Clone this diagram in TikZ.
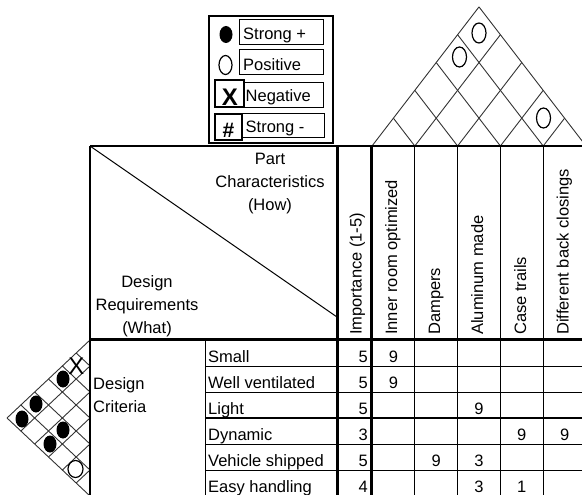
\documentclass[tikz,border=0pt]{standalone}
\usepackage{fontspec}
\setmainfont{Liberation Sans}
\usetikzlibrary{shapes.geometric}
\begin{document}
\begin{tikzpicture}[x=1pt,y=-1pt]
\tikzset{
  frameline/.style={line width=2pt},
  thickline/.style={line width=2.6pt},
  thinline/.style={line width=1pt},
  roofline/.style={line width=0.9pt, draw=black!80},
  lbl/.style={font=\fontsize{16.5}{23}\selectfont, inner sep=0pt},
  rowtext/.style={lbl, anchor=base west},
  num/.style={lbl, anchor=base},
  impnum/.style={lbl, anchor=base east},
  colhead/.style={lbl, rotate=90, anchor=base west},
  strongsym/.style={ellipse, fill=black, inner sep=0pt, minimum width=13pt, minimum height=17pt},
  possym/.style={ellipse, draw=black, line width=1.2pt, inner sep=0pt, minimum width=14pt, minimum height=20pt},
  legbox/.style={draw=black, line width=1pt, inner sep=0pt},
}
\clip (0,0) rectangle (582,495);
% ---------- legend ----------
\draw[line width=1.5pt] (209,16) rectangle (333,143);
\node[strongsym] (lgs) at (226,34.5) {};
\draw[legbox] (239,20) rectangle (323,45);
\node[rowtext] (lgst) at (243,40) {Strong +};
\node[possym, minimum width=13pt, minimum height=19pt] (lgp) at (225.5,65) {};
\draw[legbox] (239,50) rectangle (323,75);
\node[rowtext] (lgpt) at (243,70.5) {Positive};
\draw[legbox, line width=1.3pt] (215,80) rectangle (244,107);
\node[lbl, font=\fontsize{24}{24}\selectfont\bfseries] (lgx) at (230,97) {X};
\draw[legbox] (243,83) rectangle (323,108);
\node[rowtext] (lgnt) at (245.5,102) {Negative};
\draw[legbox, line width=1.3pt] (215,114) rectangle (242,140);
\node[lbl, font=\fontsize{21}{21}\selectfont\bfseries] (lgh) at (228.5,130) {\#};
\draw[legbox] (242,114) rectangle (324,138);
\node[rowtext] (lgmt) at (245.5,132) {Strong -};
% ---------- top roof ----------
\foreach \k in {0,...,5} {
  \pgfmathsetmacro\xk{372+42.8*\k}
  \pgfmathsetmacro\tr{(586-\xk)/2}
  \pgfmathsetmacro\tl{(\xk-372)/2}
  \draw[roofline] (\xk,146) -- ++(\tr,-1.3*\tr);
  \draw[roofline] (\xk,146) -- ++(-\tl,-1.3*\tl);
}
\node[possym] (t04) at (479,33) {};
\node[possym] (t03) at (459.5,57) {};
\node[possym] (t34) at (543.5,118) {};
% ---------- left roof ----------
\foreach \k in {0,...,6} {
  \pgfmathsetmacro\yk{340+26*\k}
  \pgfmathsetmacro\tu{13*\k}
  \pgfmathsetmacro\td{13*(6-\k)}
  \draw[roofline] (90,\yk) -- ++(-1.064*\tu,-\tu);
  \draw[roofline] (90,\yk) -- ++(-1.064*\td,\td);
}
\node[lbl, font=\fontsize{24}{24}\selectfont] (l01) at (76.5,366) {X};
\node[strongsym] (l02) at (63,379) {};
\node[strongsym] (l04) at (36,404) {};
\node[strongsym] (l05) at (22,419) {};
\node[strongsym] (l24) at (63,430) {};
\node[strongsym] (l25) at (50,444) {};
\node[possym, minimum width=15pt, minimum height=17pt] (l45) at (75.5,469) {};
% ---------- header box ----------
\draw[thinline] (90,146) -- (337,317);
\draw[frameline] (90,146) -- (582,146);
\draw[frameline] (90,146) -- (90,496);
\draw[thickline] (90,339.5) -- (582,339.5);
\draw[thickline] (337.5,146) -- (337.5,496);
\draw[thickline] (371.5,146) -- (371.5,496);
\foreach \k in {1,...,4} {
  \pgfmathsetmacro\xk{372+42.8*\k}
  \draw[thinline] (\xk,146) -- (\xk,496);
}
\draw[thinline] (205,340) -- (205,496);
\foreach \y in {366,392,444,470} { \draw[thinline] (205,\y) -- (582,\y); }
\draw[line width=2pt] (205,418) -- (582,418);
\node[lbl, align=center, anchor=north] (how) at (270,153) {Part\\Characteristics\\(How)};
\node[lbl, align=center, anchor=north] (what) at (147,275) {Design\\Requirements\\(What)};
% ---------- column headers ----------
\node[colhead] (h0) at (361.5,335) {Importance (1-5)};
\node[colhead] (h1) at (397,335) {Inner room optimized};
\node[colhead] (h2) at (440,335) {Dampers};
\node[colhead] (h3) at (483,335) {Aluminum made};
\node[colhead] (h4) at (526,335) {Case trails};
\node[colhead] (h5) at (568.5,335) {Different back closings};
% ---------- rows ----------
\node[lbl, align=left, anchor=north west] (crit) at (93,377) {Design\\Criteria};
\foreach \i/\t/\v in {0/Small/5, 1/Well ventilated/5, 2/Light/5, 3/Dynamic/3, 4/Vehicle shipped/5, 5/Easy handling/4} {
  \pgfmathsetmacro\yb{340+26*\i+22.5}
  \node[rowtext] (r\i) at (208,\yb) {\t};
  \node[impnum] (imp\i) at (368,\yb) {\v};
}
\foreach \i/\c/\v in {0/1/9, 1/1/9, 2/3/9, 3/4/9, 3/5/9, 4/2/9, 4/3/3, 5/3/3, 5/4/1} {
  \pgfmathsetmacro\yb{340+26*\i+22.5}
  \pgfmathsetmacro\xc{372+42.8*\c-21.4}
  \node[num] (v\i\c) at (\xc,\yb) {\v};
}
\end{tikzpicture}
\end{document}
